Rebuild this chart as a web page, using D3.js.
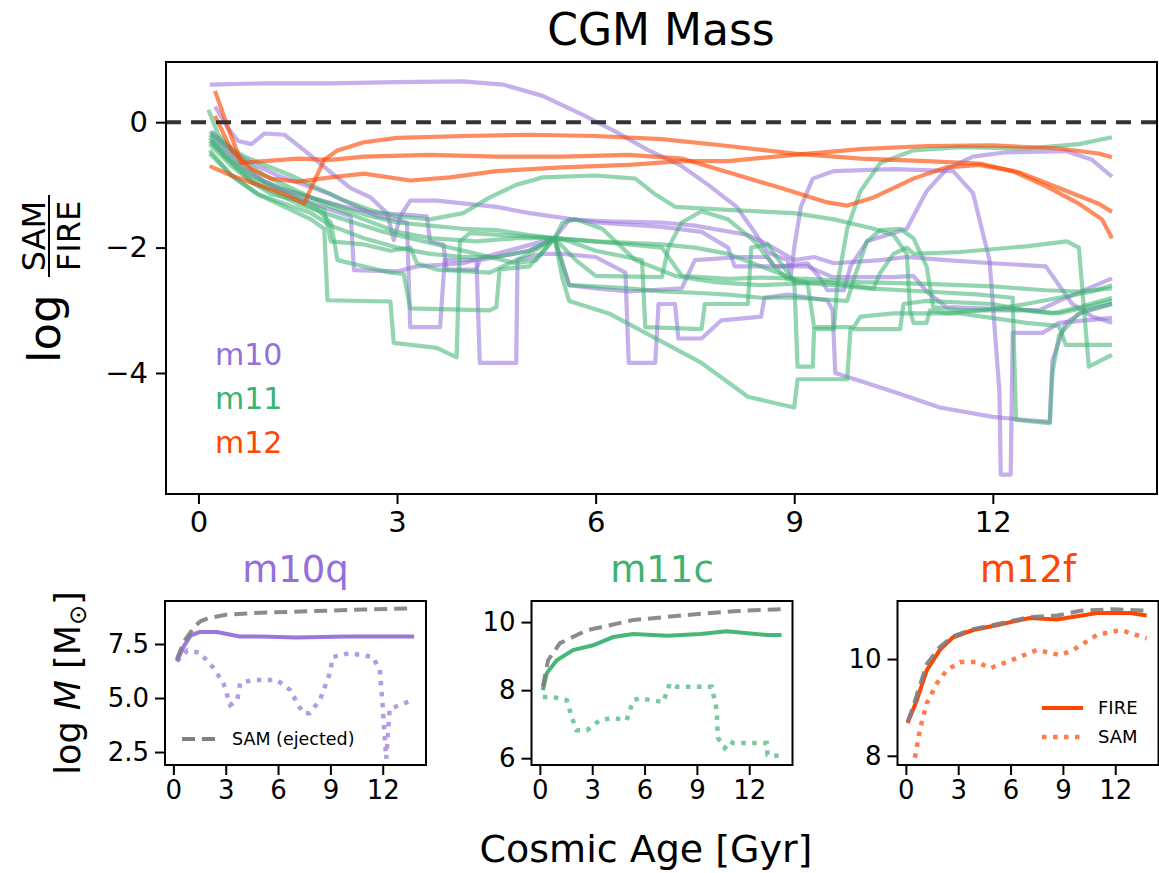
<!DOCTYPE html>
<html lang="en">
<head>
<meta charset="utf-8">
<style>
  body { margin: 0; background: #fff; font-family: "DejaVu Sans", sans-serif; }
  svg { display: block; }
  .tick text { font-family: "DejaVu Sans", sans-serif; fill: #000; }
  .tick line { stroke: #000; stroke-width: 2; }
</style>
</head>
<body>
<div id="chart"></div>
<script src="https://cdn.jsdelivr.net/npm/d3@7"></script>
<script>
// ---- main panel: log(SAM/FIRE) of CGM mass, per galaxy, [age Gyr, value]
var m10_a = [[0.17,0.6],[1,0.62],[2,0.62],[3,0.64],[4,0.65],[4.6,0.6],[5.2,0.42],[5.8,0.12],[6.3,-0.15],[6.8,-0.45],[7.27,-0.68],[7.7,-1.0],[8.13,-1.35],[8.4,-1.75],[8.6,-2.08],[8.9,-2.2],[8.95,-2.45],[9.0,-2.0],[9.1,-1.35],[9.28,-0.9],[9.6,-0.78],[10.5,-0.75],[11.4,-0.78],[11.7,-1.13],[11.95,-2.2],[12.1,-4.3],[12.12,-5.62],[12.27,-5.62],[12.3,-3.36],[12.75,-3.36],[13.0,-3.2],[13.8,-3.12]];
var m10_b = [[0.25,0.25],[0.45,-0.1],[0.6,-0.3],[0.8,-0.35],[1.0,-0.18],[1.3,-0.2],[1.6,-0.45],[2.0,-0.8],[2.3,-1.05],[2.6,-1.2],[2.85,-1.45],[2.95,-1.88],[3.05,-1.5],[3.2,-1.25],[3.6,-1.25],[4.5,-1.35],[5.0,-1.45],[6.0,-1.6],[7.0,-1.67],[7.6,-1.75],[8.0,-2.0],[8.1,-2.3],[8.8,-2.3],[9.2,-2.25],[9.4,-2.5],[9.5,-2.68],[9.75,-2.68],[9.85,-2.3],[10.1,-1.9],[10.7,-1.7],[10.8,-1.5],[11.0,-1.1],[11.3,-0.75],[11.7,-0.55],[12.2,-0.48],[13.1,-0.46],[13.5,-0.6],[13.8,-0.87]];
var m10_c = [[0.2,-0.15],[0.5,-0.45],[0.8,-0.65],[1.2,-0.85],[1.6,-1.0],[2.0,-1.15],[2.4,-1.35],[2.7,-1.5],[3.0,-1.55],[3.15,-1.6],[3.2,-3.27],[3.65,-3.27],[3.72,-2.2],[4.2,-2.2],[4.25,-3.84],[4.8,-3.84],[4.82,-2.2],[5.2,-2.1],[5.5,-2.1],[6.0,-2.15],[6.45,-2.4],[6.5,-3.84],[6.9,-3.84],[6.95,-2.9],[7.2,-2.9],[7.25,-3.45],[7.6,-3.45],[7.9,-3.16],[8.5,-3.1],[8.55,-2.8],[8.9,-2.75],[9.5,-2.84],[9.58,-3.0],[9.62,-4.0],[10.5,-4.3],[11.2,-4.55],[12.0,-4.7],[12.5,-4.75],[12.86,-4.78],[12.9,-3.8],[13.1,-3.2],[13.4,-3.0],[13.8,-2.9]];
var m10_d = [[0.2,-0.3],[0.5,-0.6],[0.8,-0.85],[1.2,-1.05],[1.7,-1.2],[2.2,-1.35],[2.7,-1.45],[3.2,-1.48],[3.45,-1.5],[3.5,-1.9],[3.7,-1.95],[3.75,-2.35],[4.2,-2.35],[4.25,-2.2],[5.0,-2.05],[5.38,-1.85],[5.6,-2.6],[6.0,-2.65],[6.5,-2.7],[7.3,-2.65],[7.5,-2.2],[8.2,-2.15],[8.6,-2.15],[8.7,-2.3],[9.2,-2.3],[9.58,-2.47],[10.5,-2.47],[10.8,-2.45],[11.0,-2.7],[11.3,-2.95],[12.7,-3.0],[13.0,-2.85],[13.8,-2.49]];
var m10_e = [[0.2,-0.2],[0.6,-0.6],[1.0,-0.95],[1.5,-1.2],[2.0,-1.4],[2.3,-1.5],[2.35,-2.36],[3.0,-2.38],[3.3,-2.3],[4.0,-2.25],[4.5,-2.1],[5.38,-1.85],[5.6,-1.55],[6.2,-1.58],[7.0,-1.6],[7.5,-1.65],[8.3,-1.8],[8.6,-1.95],[9.0,-2.2],[9.3,-2.15],[9.6,-2.25],[10.3,-2.2],[10.7,-2.15],[11.3,-2.2],[12.0,-2.25],[12.8,-2.3],[13.2,-2.9],[13.5,-3.1],[13.8,-3.2]];

var m11_a = [[0.17,-0.2],[0.4,-0.45],[0.7,-0.75],[1.0,-0.95],[1.4,-1.1],[2.0,-1.3],[2.6,-1.5],[3.0,-1.6],[3.5,-1.65],[4.0,-1.7],[4.5,-1.72],[5.0,-1.8],[5.38,-1.85],[6.0,-1.9],[7.0,-1.95],[7.5,-2.0],[8.0,-2.1],[8.5,-2.3],[9.0,-2.5],[9.05,-3.9],[9.28,-3.9],[9.3,-3.3],[9.6,-3.3],[9.65,-2.6],[9.8,-1.7],[10.0,-1.1],[10.3,-0.65],[10.8,-0.45],[11.5,-0.4],[12.5,-0.42],[13.3,-0.35],[13.8,-0.24]];
var m11_b = [[0.17,-0.15],[0.4,-0.35],[0.7,-0.55],[1.0,-0.68],[1.4,-0.85],[1.8,-1.05],[2.2,-1.25],[2.6,-1.4],[3.0,-1.5],[3.5,-1.55],[4.0,-1.45],[4.4,-1.2],[4.8,-1.0],[5.2,-0.88],[6.0,-0.85],[6.6,-0.9],[6.9,-1.15],[7.2,-1.35],[8.0,-1.4],[9.0,-1.45],[9.6,-1.55],[10.2,-1.7],[10.5,-1.8],[10.7,-2.1],[10.75,-3.0],[10.8,-3.2],[11.0,-3.2],[11.05,-3.0],[11.3,-3.05],[11.8,-3.0],[12.2,-2.95],[12.5,-2.9],[13.0,-2.8],[13.5,-2.7],[13.8,-2.6]];
var m11_c = [[0.17,-0.35],[0.5,-0.7],[0.8,-0.95],[1.1,-1.1],[1.5,-1.3],[1.9,-1.45],[2.2,-1.55],[2.5,-1.65],[2.8,-1.75],[3.2,-1.85],[3.6,-1.95],[4.2,-2.1],[4.8,-2.25],[5.1,-2.2],[5.38,-1.85],[5.5,-1.6],[5.7,-1.55],[6.1,-1.7],[6.6,-2.2],[7.2,-2.45],[7.8,-2.55],[8.5,-2.6],[9.5,-2.55],[10.2,-2.65],[10.3,-2.4],[10.5,-2.1],[10.7,-2.0],[10.8,-2.1],[11.5,-2.07],[12.5,-1.98],[13.12,-1.9],[13.3,-2.0],[13.45,-3.9],[13.8,-3.71]];
var m11_d = [[0.17,-0.25],[0.4,-0.55],[0.8,-0.9],[1.2,-1.1],[1.6,-1.25],[1.9,-1.4],[2.0,-1.9],[2.5,-1.95],[2.9,-2.05],[3.2,-2.0],[3.3,-2.25],[3.6,-2.35],[4.4,-2.4],[4.6,-2.3],[5.0,-2.1],[5.38,-1.85],[5.6,-1.9],[6.0,-2.05],[6.7,-2.2],[6.75,-3.27],[7.6,-3.3],[7.65,-2.9],[8.3,-2.9],[8.35,-2.0],[8.6,-1.95],[8.7,-2.1],[9.0,-2.55],[9.6,-2.6],[10.1,-2.65],[11.0,-2.7],[11.8,-2.75],[12.3,-2.8],[12.35,-4.75],[12.86,-4.8],[12.9,-4.0],[13.0,-3.4],[13.3,-3.05],[13.8,-2.9]];
var m11_e = [[0.17,-0.5],[0.5,-0.85],[0.9,-1.15],[1.3,-1.35],[1.7,-1.55],[1.9,-1.7],[1.95,-2.84],[2.9,-2.86],[2.95,-3.52],[3.6,-3.6],[3.9,-3.75],[3.95,-1.9],[4.1,-1.77],[4.6,-1.8],[5.38,-1.85],[5.5,-2.5],[5.6,-2.85],[6.2,-3.05],[7.0,-3.5],[7.6,-3.84],[8.3,-4.38],[9.0,-4.55],[9.05,-4.1],[9.8,-4.1],[9.85,-3.3],[10.6,-3.3],[10.65,-2.9],[11.0,-2.85],[12.0,-2.9],[12.5,-3.0],[12.9,-3.05],[13.3,-2.95],[13.8,-2.8]];
var m11_f = [[0.17,-0.3],[0.5,-0.65],[0.8,-0.95],[1.1,-1.15],[1.5,-1.25],[1.8,-1.4],[2.0,-1.6],[2.1,-2.2],[2.9,-2.4],[3.1,-2.42],[3.2,-2.97],[4.4,-3.0],[4.5,-2.95],[4.55,-2.35],[5.0,-2.3],[5.38,-1.85],[5.7,-2.2],[6.0,-2.45],[7.0,-2.47],[7.1,-2.0],[7.3,-1.6],[7.6,-1.42],[8.0,-1.55],[8.4,-1.9],[8.7,-2.3],[8.9,-2.5],[9.2,-2.55],[9.3,-3.27],[9.9,-3.27],[10.0,-3.1],[10.5,-3.05],[11.5,-3.05],[12.5,-3.2],[13.0,-3.25],[13.1,-3.55],[13.8,-3.55]];
var m11_g = [[0.15,0.2],[0.3,-0.2],[0.6,-0.55],[1.0,-0.85],[1.5,-1.1],[2.0,-1.35],[2.5,-1.55],[3.0,-1.75],[3.5,-1.85],[4.2,-1.9],[4.8,-1.85],[5.38,-1.85],[6.5,-1.95],[7.0,-2.0],[7.3,-2.45],[8.0,-2.5],[8.5,-2.48],[9.2,-2.5],[10.0,-2.55],[11.0,-2.58],[12.0,-2.62],[12.8,-2.68],[13.3,-2.7],[13.8,-2.65]];
var m11_h = [[0.17,-0.45],[0.5,-0.85],[0.9,-1.15],[1.3,-1.3],[1.7,-1.45],[2.0,-1.65],[2.5,-1.85],[3.0,-2.0],[3.5,-2.1],[4.0,-2.15],[4.5,-2.15],[5.0,-2.05],[5.38,-1.85],[5.6,-2.6],[6.0,-2.62],[6.5,-2.65],[7.0,-2.7],[7.5,-2.72],[8.0,-2.75],[8.5,-2.8],[9.0,-2.8],[9.8,-2.85],[9.9,-2.5],[10.1,-1.9],[10.3,-1.72],[10.6,-1.7],[10.8,-1.85],[11.0,-2.3],[11.1,-2.95],[11.5,-3.0],[12.5,-3.0],[13.0,-3.05],[13.4,-2.95],[13.8,-2.85]];

var m12_a = [[0.17,-0.7],[0.5,-0.85],[0.9,-1.0],[1.3,-1.15],[1.6,-1.3],[1.7,-1.05],[1.9,-0.6],[2.1,-0.45],[2.5,-0.32],[3.0,-0.25],[4.0,-0.22],[5.0,-0.2],[6.0,-0.22],[7.0,-0.27],[8.0,-0.38],[9.0,-0.5],[10.0,-0.58],[11.0,-0.62],[11.8,-0.66],[12.4,-0.8],[13.0,-1.05],[13.6,-1.3],[13.8,-1.43]];
var m12_b = [[0.25,0.5],[0.45,-0.1],[0.65,-0.65],[1.0,-0.62],[1.5,-0.58],[2.0,-0.6],[2.5,-0.55],[3.5,-0.52],[4.5,-0.55],[5.5,-0.55],[6.5,-0.52],[7.3,-0.58],[8.0,-0.8],[8.8,-1.05],[9.5,-1.28],[9.8,-1.33],[10.2,-1.2],[10.8,-0.9],[11.3,-0.72],[11.8,-0.68],[12.3,-0.78],[12.8,-1.02],[13.3,-1.3],[13.65,-1.55],[13.8,-1.85]];
var m12_c = [[0.25,0.1],[0.5,-0.45],[0.8,-0.75],[1.1,-0.9],[1.5,-0.95],[2.0,-0.88],[2.5,-0.82],[3.2,-0.93],[3.8,-0.88],[4.5,-0.78],[5.5,-0.72],[6.5,-0.68],[7.3,-0.62],[8.0,-0.62],[9.0,-0.52],[10.0,-0.43],[11.0,-0.38],[12.0,-0.37],[13.0,-0.42],[13.6,-0.5],[13.8,-0.56]];

var groups = [
  {name: "m10", color: "#9370db", lines: [m10_a, m10_b, m10_c, m10_d, m10_e]},
  {name: "m11", color: "#3cb371", lines: [m11_a, m11_b, m11_c, m11_d, m11_e, m11_f, m11_g, m11_h]},
  {name: "m12", color: "#ff4500", lines: [m12_a, m12_b, m12_c]}
];

var mainXTicks = [0, 3, 6, 9, 12];
var mainYTicks = [0, -2, -4];

// ---- bottom panels: log M [Msun]
var m10q_fire = [[0.2,6.7],[0.6,7.4],[1.0,7.9],[1.5,8.05],[2.5,8.05],[3.8,7.85],[5,7.85],[7,7.8],[10,7.85],[13.8,7.85]];
var m10q_ej   = [[0.2,6.8],[0.6,7.6],[1.2,8.3],[1.55,8.55],[2,8.7],[3,8.85],[5,8.95],[7.25,9.0],[11,9.1],[13.8,9.15]];
var m10q_sam  = [[0.2,6.7],[0.8,7.2],[1.5,7.1],[2.29,6.4],[2.86,5.7],[3.26,4.68],[3.66,4.9],[3.83,5.7],[4.57,5.83],[5.94,5.83],[6.69,5.37],[7.1,4.77],[7.43,4.3],[7.8,4.3],[8.4,4.9],[8.97,6.15],[9.14,6.9],[10.1,7.08],[11.43,6.9],[11.83,6.3],[12.0,4.6],[12.2,2.2],[12.4,4.5],[12.97,4.67],[13.7,4.9]];

var m11c_fire = [[0.17,8.0],[0.4,8.5],[0.97,8.88],[1.9,9.18],[3.05,9.32],[4.2,9.56],[5.35,9.65],[7.3,9.6],[9.2,9.65],[10.7,9.73],[13.0,9.62],[13.85,9.62]];
var m11c_ej   = [[0.17,8.1],[0.47,8.88],[1.15,9.38],[2.7,9.76],[5.35,10.06],[8.2,10.2],[11.1,10.32],[13.8,10.38]];
var m11c_sam  = [[0.17,7.8],[0.75,7.8],[1.55,7.7],[1.83,7.2],[2.1,6.82],[2.7,6.82],[3.44,7.12],[4.2,7.18],[4.97,7.12],[5.35,7.7],[5.73,7.76],[7.07,7.65],[7.45,8.2],[7.85,8.1],[9.85,8.1],[10.14,7.4],[10.2,6.6],[10.6,6.3],[10.9,6.5],[11.06,6.45],[13.0,6.45],[13.05,6.1],[13.85,6.06]];

var m12f_fire = [[0.1,8.68],[0.63,9.15],[1.2,9.77],[1.95,10.19],[2.7,10.45],[3.85,10.6],[5.2,10.7],[7.1,10.85],[8.67,10.82],[10.96,10.95],[12.86,10.95],[13.8,10.9]];
var m12f_ej   = [[0.1,8.7],[0.4,9.0],[1.2,9.9],[1.95,10.25],[2.7,10.47],[3.85,10.62],[5.2,10.72],[7.1,10.87],[8.67,10.9],[10.0,11.0],[11.9,11.03],[13.7,11.0]];
var m12f_sam  = [[0.52,7.96],[0.8,8.54],[1.2,9.09],[1.78,9.5],[2.35,9.77],[3.1,9.94],[4.08,9.94],[4.82,9.81],[5.8,9.94],[7.52,10.19],[8.84,10.08],[9.6,10.19],[10.96,10.5],[12.3,10.6],[13.8,10.43]];

var subTicksX = [0, 3, 6, 9, 12];
var panels = [
  {title: "m10q", color: "#9370db", left: 165, ydom: [1.9, 9.49], yticks: [2.5, 5.0, 7.5], fmt: ".1f", fire: m10q_fire, ej: m10q_ej, sam: m10q_sam},
  {title: "m11c", color: "#3cb371", left: 531.5, ydom: [5.8, 10.62], yticks: [6, 8, 10], fmt: "d", fire: m11c_fire, ej: m11c_ej, sam: m11c_sam},
  {title: "m12f", color: "#ff4500", left: 897.5, ydom: [7.81, 11.2], yticks: [8, 10], fmt: "d", fire: m12f_fire, ej: m12f_ej, sam: m12f_sam}
];

var W = 1159, H = 873;
var svg = d3.select("#chart").append("svg").attr("width", W).attr("height", H);
var font = '"DejaVu Sans", sans-serif';
var minus = function (d) { return String(d).replace("-", "\u2212"); };

// main panel
var M = {left: 166, right: 1157, top: 62, bottom: 494};
var x = d3.scaleLinear().domain([-0.49, 14.48]).range([M.left, M.right]);
var y = d3.scaleLinear().domain([-5.93, 0.96]).range([M.bottom, M.top]);

svg.append("defs").append("clipPath").attr("id", "clipMain")
  .append("rect").attr("x", M.left).attr("y", M.top)
  .attr("width", M.right - M.left).attr("height", M.bottom - M.top);

var line = d3.line().x(function (d) { return x(d[0]); }).y(function (d) { return y(d[1]); });

var plot = svg.append("g").attr("clip-path", "url(#clipMain)");
groups.forEach(function (g) {
  plot.selectAll(null).data(g.lines).enter().append("path")
    .attr("d", line)
    .attr("fill", "none")
    .attr("stroke", g.color)
    .attr("stroke-opacity", g.name == "m12" ? 0.62 : 0.55)
    .attr("stroke-width", 4.2)
    .attr("stroke-linejoin", "round");
});

plot.append("line")
  .attr("x1", M.left).attr("x2", M.right)
  .attr("y1", y(0)).attr("y2", y(0))
  .attr("stroke", "#333").attr("stroke-width", 4)
  .attr("stroke-dasharray", "15,10");

svg.append("rect").attr("x", M.left).attr("y", M.top)
  .attr("width", M.right - M.left).attr("height", M.bottom - M.top)
  .attr("fill", "none").attr("stroke", "#000").attr("stroke-width", 2);

var xa = svg.append("g").attr("transform", "translate(0," + M.bottom + ")")
  .call(d3.axisBottom(x).tickValues(mainXTicks).tickSize(10).tickPadding(7));
xa.select(".domain").remove();
xa.selectAll("text").attr("font-size", 29).attr("font-family", font);

var ya = svg.append("g").attr("transform", "translate(" + M.left + ",0)")
  .call(d3.axisLeft(y).tickValues(mainYTicks).tickSize(10).tickPadding(8).tickFormat(minus));
ya.select(".domain").remove();
ya.selectAll("text").attr("font-size", 29).attr("font-family", font);

groups.forEach(function (g, i) {
  svg.append("text").attr("x", 215).attr("y", 365 + i * 44)
    .attr("font-family", font).attr("font-size", 30)
    .attr("fill", g.color).text(g.name);
});

svg.append("text").attr("x", 661).attr("y", 45).attr("text-anchor", "middle")
  .attr("font-family", font).attr("font-size", 44).text("CGM Mass");

// y label: log SAM/FIRE
var yl = svg.append("g").attr("transform", "translate(60,277) rotate(-90)");
yl.append("text").attr("x", -86).attr("y", 0).attr("font-family", font)
  .attr("font-size", 45).text("log");
yl.append("text").attr("x", 41).attr("y", -15).attr("text-anchor", "middle")
  .attr("font-family", font).attr("font-size", 32).text("SAM");
yl.append("line").attr("x1", 0).attr("x2", 82).attr("y1", -11).attr("y2", -11)
  .attr("stroke", "#000").attr("stroke-width", 2);
yl.append("text").attr("x", 41).attr("y", 20).attr("text-anchor", "middle")
  .attr("font-family", font).attr("font-size", 32).text("FIRE");

// bottom panels
var P = {top: 601, bottom: 765, width: 261};
panels.forEach(function (p, i) {
  var px = d3.scaleLinear().domain([-0.48, 14.48]).range([p.left, p.left + P.width]);
  var py = d3.scaleLinear().domain(p.ydom).range([P.bottom, P.top]);
  var pl = d3.line().x(function (d) { return px(d[0]); }).y(function (d) { return py(d[1]); });
  var g = svg.append("g");
  var cid = "clipP" + i;
  svg.select("defs").append("clipPath").attr("id", cid).append("rect")
    .attr("x", p.left).attr("y", P.top).attr("width", P.width).attr("height", P.bottom - P.top);
  var c = g.append("g").attr("clip-path", "url(#" + cid + ")");

  c.append("path").attr("d", pl(p.sam)).attr("fill", "none")
    .attr("stroke", p.color).attr("stroke-opacity", 0.7).attr("stroke-width", 4.5)
    .attr("stroke-dasharray", "4.5,6.5");
  c.append("path").attr("d", pl(p.fire)).attr("fill", "none")
    .attr("stroke", p.color).attr("stroke-opacity", i == 2 ? 1 : 0.95).attr("stroke-width", 4);
  c.append("path").attr("d", pl(p.ej)).attr("fill", "none")
    .attr("stroke", "#808080").attr("stroke-opacity", 0.9).attr("stroke-width", 4)
    .attr("stroke-dasharray", "13,7");

  g.append("rect").attr("x", p.left).attr("y", P.top).attr("width", P.width)
    .attr("height", P.bottom - P.top).attr("fill", "none")
    .attr("stroke", "#000").attr("stroke-width", 2);

  var ax = g.append("g").attr("transform", "translate(0," + P.bottom + ")")
    .call(d3.axisBottom(px).tickValues(subTicksX).tickSize(10).tickPadding(6));
  ax.select(".domain").remove();
  ax.selectAll("text").attr("font-size", 26).attr("font-family", font);
  var ay = g.append("g").attr("transform", "translate(" + p.left + ",0)")
    .call(d3.axisLeft(py).tickValues(p.yticks).tickSize(10).tickPadding(6).tickFormat(d3.format(p.fmt)));
  ay.select(".domain").remove();
  ay.selectAll("text").attr("font-size", 26).attr("font-family", font);

  g.append("text").attr("x", p.left + P.width / 2).attr("y", 582)
    .attr("text-anchor", "middle").attr("font-family", font).attr("font-size", 37)
    .attr("fill", p.color).text(p.title);
});

// legends
var lg1 = svg.append("g");
lg1.append("line").attr("x1", 182).attr("x2", 218).attr("y1", 739).attr("y2", 739)
  .attr("stroke", "#808080").attr("stroke-width", 4).attr("stroke-dasharray", "13,7");
lg1.append("text").attr("x", 232).attr("y", 745).attr("font-family", font)
  .attr("font-size", 17.5).text("SAM (ejected)");

var lg3 = svg.append("g");
lg3.append("line").attr("x1", 1042).attr("x2", 1083).attr("y1", 708).attr("y2", 708)
  .attr("stroke", "#ff4500").attr("stroke-width", 4);
lg3.append("text").attr("x", 1098).attr("y", 714).attr("font-family", font)
  .attr("font-size", 18).text("FIRE");
lg3.append("line").attr("x1", 1042).attr("x2", 1083).attr("y1", 737).attr("y2", 737)
  .attr("stroke", "#ff4500").attr("stroke-opacity", 0.7).attr("stroke-width", 4.5)
  .attr("stroke-dasharray", "4.5,6.5");
lg3.append("text").attr("x", 1098).attr("y", 743).attr("font-family", font)
  .attr("font-size", 18).text("SAM");

// shared labels
svg.append("text").attr("x", 646).attr("y", 862).attr("text-anchor", "middle")
  .attr("font-family", font).attr("font-size", 38).text("Cosmic Age [Gyr]");

var bl = svg.append("g").attr("transform", "translate(80,683) rotate(-90)");
var bt = bl.append("text").attr("text-anchor", "middle").attr("font-family", font).attr("font-size", 35);
bt.append("tspan").text("log ");
bt.append("tspan").attr("font-style", "italic").text("M");
bt.append("tspan").text(" [M");
bt.append("tspan").attr("font-size", 24).attr("dy", 6).text("\u2299");
bt.append("tspan").attr("dy", -6).text("]");
</script>
</body>
</html>
